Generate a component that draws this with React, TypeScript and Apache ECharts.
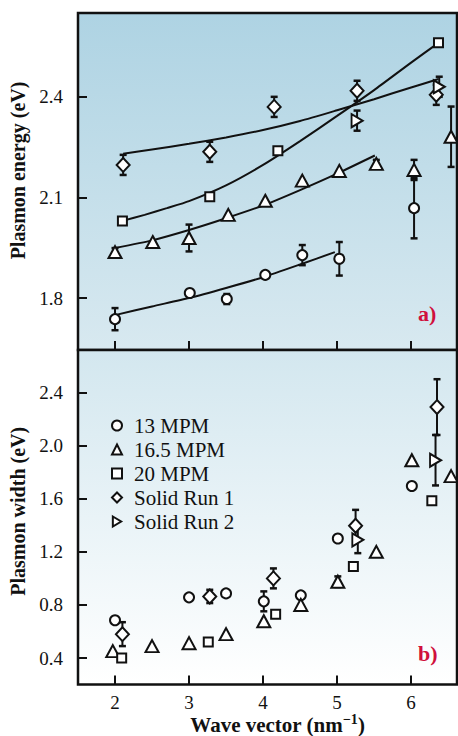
import React, { useEffect, useRef } from 'react';
import * as echarts from 'echarts';

// ---------- data ----------
const X_TICKS = [2, 3, 4, 5, 6];
const ENERGY_TICKS = [1.8, 2.1, 2.4];
const WIDTH_TICKS = [0.4, 0.8, 1.2, 1.6, 2.0, 2.4];
const SERIES_NAMES = ['13 MPM', '16.5 MPM', '20 MPM', 'Solid Run 1', 'Solid Run 2'];

// [wave vector, plasmon energy, error]
const ENERGY_13 = [[2.0, 1.737, 0.033], [3.01, 1.815, 0], [3.51, 1.797, 0.015], [4.03, 1.869, 0], [4.53, 1.928, 0.03], [5.03, 1.917, 0.05], [6.04, 2.068, 0.09]];
const ENERGY_16 = [[2.0, 1.937, 0.012], [2.51, 1.967, 0], [3.0, 1.979, 0.04], [3.53, 2.048, 0], [4.03, 2.09, 0], [4.53, 2.15, 0], [5.03, 2.179, 0], [5.53, 2.2, 0.012], [6.04, 2.182, 0.03], [6.54, 2.281, 0.09]];
const ENERGY_20 = [[2.1, 2.03, 0], [3.28, 2.102, 0], [4.2, 2.239, 0], [6.37, 2.561, 0]];
const ENERGY_SR1 = [[2.11, 2.197, 0.03], [3.28, 2.236, 0.03], [4.15, 2.37, 0.03], [5.27, 2.418, 0.03], [6.34, 2.406, 0.03]];
const ENERGY_SR2 = [[5.27, 2.329, 0.03], [6.38, 2.43, 0.03]];

// fit curves
const FIT_13 = [[2, 1.749], [2.5, 1.775], [3, 1.8], [3.5, 1.83], [4, 1.862], [4.5, 1.9], [4.97, 1.937]];
const FIT_16 = [[2, 1.949], [2.5, 1.972], [3, 2.003], [3.5, 2.038], [4, 2.076], [4.5, 2.122], [5, 2.171], [5.51, 2.225]];
const FIT_20 = [[2.1, 2.03], [2.4, 2.048], [2.7, 2.068], [3, 2.089], [3.5, 2.136], [4, 2.197], [4.5, 2.268], [5, 2.343], [5.5, 2.42], [6, 2.502], [6.37, 2.561]];
const FIT_SR1 = [[2.11, 2.23], [2.5, 2.243], [3, 2.26], [3.5, 2.279], [4, 2.301], [4.5, 2.328], [5, 2.36], [5.5, 2.393], [6, 2.428], [6.37, 2.453]];

// [wave vector, plasmon width, error]
const WIDTH_13 = [[2.0, 0.685, 0], [3.0, 0.857, 0], [3.5, 0.887, 0], [4.01, 0.827, 0.075], [4.51, 0.872, 0], [5.01, 1.3, 0], [6.01, 1.696, 0]];
const WIDTH_16 = [[1.97, 0.452, 0], [2.5, 0.49, 0], [3.0, 0.512, 0], [3.5, 0.58, 0], [4.01, 0.677, 0], [4.51, 0.8, 0], [5.01, 0.975, 0.04], [5.53, 1.2, 0], [6.01, 1.89, 0], [6.54, 1.77, 0]];
const WIDTH_20 = [[2.09, 0.4, 0], [3.26, 0.52, 0], [4.17, 0.73, 0], [5.22, 1.09, 0], [6.28, 1.584, 0]];
const WIDTH_SR1 = [[2.1, 0.58, 0.09], [3.28, 0.864, 0.05], [4.14, 1.0, 0.075], [5.25, 1.396, 0.12], [6.35, 2.29, 0.21]];
const WIDTH_SR2 = [[5.28, 1.29, 0.1], [6.33, 1.89, 0.19]];

// ---------- styling ----------
const FONT = 'Liberation Serif, Times New Roman, serif';
const SYMBOLS: any[] = [
  { symbol: 'circle', size: 10 },
  { symbol: 'triangle', size: [13, 12] },
  { symbol: 'rect', size: 9 },
  { symbol: 'diamond', size: [13, 14] },
  { symbol: 'path://M0,0L10,6L0,12Z', size: [11, 13] },
];

function errorBarSeries(data: number[][], xAxisIndex: number, yAxisIndex: number) {
  return {
    type: 'custom',
    xAxisIndex,
    yAxisIndex,
    z: 3,
    silent: true,
    encode: { x: 0, y: 1 },
    data: data.filter((d) => d[2] > 0),
    renderItem: (params: any, api: any) => {
      const x = api.value(0);
      const y = api.value(1);
      const e = api.value(2);
      const lo = api.coord([x, y - e]);
      const hi = api.coord([x, y + e]);
      const w = 3.5;
      return {
        type: 'group',
        children: [
          { type: 'line', shape: { x1: lo[0], y1: lo[1], x2: hi[0], y2: hi[1] }, style: { stroke: '#111', lineWidth: 2 } },
          { type: 'line', shape: { x1: lo[0] - w, y1: lo[1], x2: lo[0] + w, y2: lo[1] }, style: { stroke: '#111', lineWidth: 2.5 } },
          { type: 'line', shape: { x1: hi[0] - w, y1: hi[1], x2: hi[0] + w, y2: hi[1] }, style: { stroke: '#111', lineWidth: 2.5 } },
        ],
      };
    },
  };
}

function scatterSeries(name: string, idx: number, data: number[][], xAxisIndex: number, yAxisIndex: number) {
  return {
    type: 'scatter',
    name,
    xAxisIndex,
    yAxisIndex,
    z: 5,
    symbol: SYMBOLS[idx].symbol,
    symbolSize: SYMBOLS[idx].size,
    itemStyle: { color: '#fff', borderColor: '#111', borderWidth: 2, opacity: 1 },
    data: data.map((d) => [d[0], d[1]]),
  };
}

function fitSeries(data: number[][]) {
  return {
    type: 'line',
    xAxisIndex: 0,
    yAxisIndex: 0,
    z: 2,
    silent: true,
    showSymbol: false,
    smooth: 0.2,
    lineStyle: { color: '#111', width: 2 },
    data,
  };
}

export default function App() {
  const ref = useRef<HTMLDivElement>(null);
  useEffect(() => {
    if (!ref.current) return;
    const chart = echarts.init(ref.current, null, { renderer: 'svg' });
    const gridCommon = {
      left: 78,
      width: 379,
      height: 337,
      show: true,
      borderColor: '#111',
      borderWidth: 2.5,
    };
    const tickStyle = { color: '#111', width: 2 };
    const xCommon = {
      type: 'value',
      min: 1.5,
      max: 6.62,
      axisLine: { show: false },
      splitLine: { show: false },
      axisTick: { show: true, inside: true, length: 9, lineStyle: tickStyle, customValues: X_TICKS },
    };
    const yCommon = {
      type: 'value',
      axisLine: { show: false },
      splitLine: { show: false },
      nameLocation: 'middle',
      nameRotate: 90,
      nameGap: 46,
    };
    const yNameStyle = { fontFamily: FONT, fontSize: 20, fontWeight: 'bold', color: '#111' };
    const labelStyle = { margin: 15, fontFamily: FONT, fontSize: 19, color: '#111' };
    const energyData = [ENERGY_13, ENERGY_16, ENERGY_20, ENERGY_SR1, ENERGY_SR2];
    const widthData = [WIDTH_13, WIDTH_16, WIDTH_20, WIDTH_SR1, WIDTH_SR2];
    const series: any[] = [];
    [FIT_13, FIT_16, FIT_20, FIT_SR1].forEach((f) => series.push(fitSeries(f)));
    energyData.forEach((d) => series.push(errorBarSeries(d, 0, 0)));
    widthData.forEach((d) => series.push(errorBarSeries(d, 1, 1)));
    energyData.forEach((d, i) => series.push(scatterSeries(SERIES_NAMES[i], i, d, 0, 0)));
    widthData.forEach((d, i) => series.push(scatterSeries(SERIES_NAMES[i], i, d, 1, 1)));

    chart.setOption({
      animation: false,
      backgroundColor: '#fff',
      textStyle: { fontFamily: FONT },
      grid: [
        {
          ...gridCommon,
          top: 13,
          backgroundColor: new echarts.graphic.LinearGradient(0, 0, 0, 1, [
            { offset: 0, color: '#aed3e3' },
            { offset: 1, color: '#d8e9f0' },
          ]),
        },
        {
          ...gridCommon,
          top: 350,
          backgroundColor: new echarts.graphic.LinearGradient(0, 0, 0, 1, [
            { offset: 0, color: '#d3e7ef' },
            { offset: 1, color: '#ffffff' },
          ]),
        },
      ],
      xAxis: [
        { ...xCommon, gridIndex: 0, axisLabel: { show: false } },
        {
          ...xCommon,
          gridIndex: 1,
          axisLabel: { show: true, customValues: X_TICKS, margin: 8, fontFamily: FONT, fontSize: 19, color: '#111' },
          name: '{a|Wave vector (nm}{s|−1}{a|)}',
          nameLocation: 'middle',
          nameGap: 26,
          nameTextStyle: {
            padding: [0, 0, 0, 20],
            rich: {
              a: { fontFamily: FONT, fontSize: 21, fontWeight: 'bold', color: '#111' },
              s: { fontFamily: FONT, fontSize: 14, fontWeight: 'bold', color: '#111', padding: [0, 0, 10, 0] },
            },
          },
        },
      ],
      yAxis: [
        {
          ...yCommon,
          gridIndex: 0,
          min: 1.645,
          max: 2.65,
          name: 'Plasmon energy (eV)',
          nameTextStyle: { ...yNameStyle, padding: [0, 0, 0, 22] },
          axisTick: { show: true, inside: true, length: 9, lineStyle: tickStyle, customValues: ENERGY_TICKS },
          axisLabel: { ...labelStyle, customValues: ENERGY_TICKS, formatter: (v: number) => v.toFixed(1) },
        },
        {
          ...yCommon,
          gridIndex: 1,
          min: 0.2,
          max: 2.72,
          name: 'Plasmon width (eV)',
          nameTextStyle: { ...yNameStyle, padding: [0, 0, 0, 12] },
          axisTick: { show: true, inside: true, length: 9, lineStyle: tickStyle, customValues: WIDTH_TICKS },
          axisLabel: { ...labelStyle, customValues: WIDTH_TICKS, formatter: (v: number) => v.toFixed(1) },
        },
      ],
      legend: {
        data: SERIES_NAMES,
        orient: 'vertical',
        left: 111,
        top: 415,
        padding: 0,
        itemWidth: 10,
        itemHeight: 10,
        itemGap: 3,
        selectedMode: false,
        textStyle: { fontFamily: FONT, fontSize: 21, color: '#111', lineHeight: 21, padding: [0, 0, 0, 7] },
      },
      graphic: [
        { type: 'text', left: 418, top: 302, style: { text: 'a)', font: `bold 22px ${FONT}`, fill: '#d0103c' } },
        { type: 'text', left: 418, top: 642, style: { text: 'b)', font: `bold 22px ${FONT}`, fill: '#d0103c' } },
      ],
      series,
    });
    return () => chart.dispose();
  }, []);
  return <div ref={ref} style={{ width: 458, height: 736, position: 'absolute', left: 0, top: 0 }} />;
}
